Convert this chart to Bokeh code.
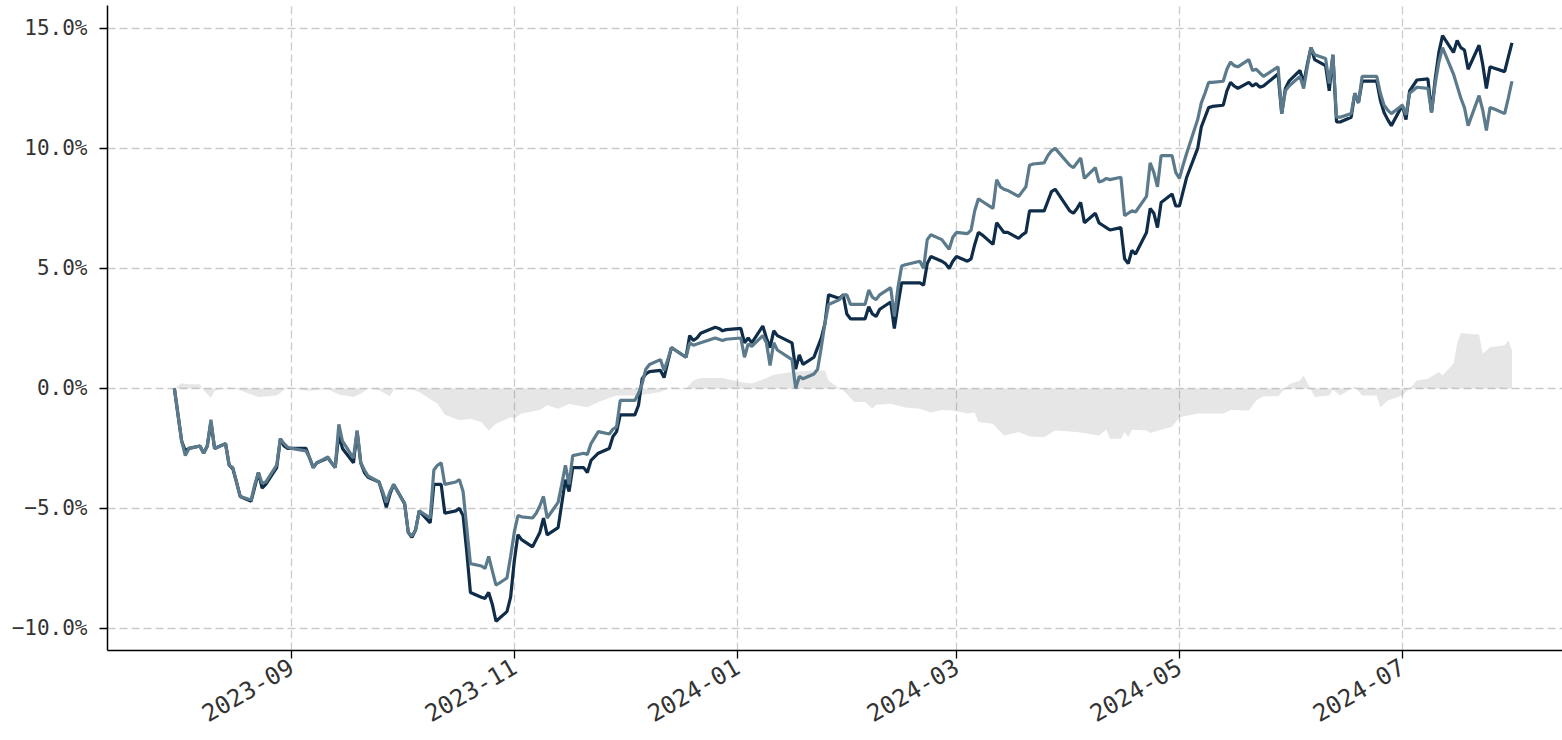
import math
import pandas as pd
from bokeh.plotting import figure
from bokeh.models import FixedTicker, DatetimeTickFormatter, Range1d
from bokeh.embed import file_html
from bokeh.resources import INLINE

# ---------------- data (cumulative return, %) ----------------
dates = [
    "2023-07-31", "2023-08-02", "2023-08-03", "2023-08-04", "2023-08-07", "2023-08-08", "2023-08-09",
    "2023-08-10", "2023-08-11", "2023-08-14", "2023-08-15", "2023-08-16", "2023-08-17", "2023-08-18",
    "2023-08-21", "2023-08-22", "2023-08-23", "2023-08-24", "2023-08-25", "2023-08-28", "2023-08-29",
    "2023-08-30", "2023-08-31", "2023-09-01", "2023-09-05", "2023-09-06", "2023-09-07", "2023-09-08",
    "2023-09-11", "2023-09-12", "2023-09-13", "2023-09-14", "2023-09-15", "2023-09-18", "2023-09-19",
    "2023-09-20", "2023-09-21", "2023-09-22", "2023-09-25", "2023-09-26", "2023-09-27", "2023-09-28",
    "2023-09-29", "2023-10-02", "2023-10-03", "2023-10-04", "2023-10-05", "2023-10-06", "2023-10-09",
    "2023-10-10", "2023-10-11", "2023-10-12", "2023-10-13", "2023-10-16", "2023-10-17", "2023-10-18",
    "2023-10-19", "2023-10-20", "2023-10-23", "2023-10-24", "2023-10-25", "2023-10-26", "2023-10-27",
    "2023-10-30", "2023-10-31", "2023-11-01", "2023-11-02", "2023-11-03", "2023-11-06", "2023-11-07",
    "2023-11-08", "2023-11-09", "2023-11-10", "2023-11-13", "2023-11-14", "2023-11-15", "2023-11-16",
    "2023-11-17", "2023-11-20", "2023-11-21", "2023-11-22", "2023-11-24", "2023-11-27", "2023-11-28",
    "2023-11-29", "2023-11-30", "2023-12-01", "2023-12-04", "2023-12-05", "2023-12-06", "2023-12-07",
    "2023-12-08", "2023-12-11", "2023-12-12", "2023-12-13", "2023-12-14", "2023-12-15", "2023-12-18",
    "2023-12-19", "2023-12-20", "2023-12-21", "2023-12-22", "2023-12-26", "2023-12-27", "2023-12-28",
    "2023-12-29", "2024-01-02", "2024-01-03", "2024-01-04", "2024-01-05", "2024-01-08", "2024-01-09",
    "2024-01-10", "2024-01-11", "2024-01-12", "2024-01-16", "2024-01-17", "2024-01-18", "2024-01-19",
    "2024-01-22", "2024-01-23", "2024-01-24", "2024-01-25", "2024-01-26", "2024-01-29", "2024-01-30",
    "2024-01-31", "2024-02-01", "2024-02-02", "2024-02-05", "2024-02-06", "2024-02-07", "2024-02-08",
    "2024-02-09", "2024-02-12", "2024-02-13", "2024-02-14", "2024-02-15", "2024-02-16", "2024-02-20",
    "2024-02-21", "2024-02-22", "2024-02-23", "2024-02-26", "2024-02-27", "2024-02-28", "2024-02-29",
    "2024-03-01", "2024-03-04", "2024-03-05", "2024-03-06", "2024-03-07", "2024-03-08", "2024-03-11",
    "2024-03-12", "2024-03-13", "2024-03-14", "2024-03-15", "2024-03-18", "2024-03-19", "2024-03-20",
    "2024-03-21", "2024-03-22", "2024-03-25", "2024-03-26", "2024-03-27", "2024-03-28", "2024-04-01",
    "2024-04-02", "2024-04-03", "2024-04-04", "2024-04-05", "2024-04-08", "2024-04-09", "2024-04-10",
    "2024-04-11", "2024-04-12", "2024-04-15", "2024-04-16", "2024-04-17", "2024-04-18", "2024-04-19",
    "2024-04-22", "2024-04-23", "2024-04-24", "2024-04-25", "2024-04-26", "2024-04-29", "2024-04-30",
    "2024-05-01", "2024-05-02", "2024-05-03", "2024-05-06", "2024-05-07", "2024-05-08", "2024-05-09",
    "2024-05-10", "2024-05-13", "2024-05-14", "2024-05-15", "2024-05-16", "2024-05-17", "2024-05-20",
    "2024-05-21", "2024-05-22", "2024-05-23", "2024-05-24", "2024-05-28", "2024-05-29", "2024-05-30",
    "2024-05-31", "2024-06-03", "2024-06-04", "2024-06-05", "2024-06-06", "2024-06-07", "2024-06-10",
    "2024-06-11", "2024-06-12", "2024-06-13", "2024-06-14", "2024-06-17", "2024-06-18", "2024-06-19",
    "2024-06-20", "2024-06-21", "2024-06-24", "2024-06-25", "2024-06-26", "2024-06-27", "2024-06-28",
    "2024-07-01", "2024-07-02", "2024-07-03", "2024-07-05", "2024-07-08", "2024-07-09", "2024-07-10",
    "2024-07-11", "2024-07-12", "2024-07-15", "2024-07-16", "2024-07-17", "2024-07-18", "2024-07-19",
    "2024-07-22", "2024-07-23", "2024-07-24", "2024-07-25", "2024-07-26", "2024-07-29", "2024-07-30",
    "2024-07-31",
]

portfolio = [
    0.0, -2.2, -2.6, -2.5, -2.4, -2.7, -2.4,
    -1.4, -2.5, -2.3, -3.2, -3.35, -3.9, -4.5,
    -4.7, -4.1, -3.5, -4.15, -4.0, -3.3, -2.1,
    -2.4, -2.5, -2.5, -2.5, -2.9, -3.3, -3.1,
    -2.9, -3.1, -3.3, -1.9, -2.5, -3.1, -1.8,
    -3.1, -3.5, -3.7, -3.9, -4.4, -4.95, -4.4,
    -4.0, -4.8, -6.0, -6.2, -5.9, -5.1, -5.6,
    -4.0, -4.0, -4.0, -5.2, -5.1, -5.0, -5.3,
    -6.8, -8.5, -8.7, -8.75, -8.5, -9.0, -9.7,
    -9.3, -8.7, -7.2, -6.1, -6.3, -6.6, -6.3,
    -6.0, -5.4, -6.1, -5.8, -4.8, -3.8, -4.3,
    -3.3, -3.3, -3.5, -3.0, -2.7, -2.5, -2.0,
    -1.8, -1.1, -1.1, -1.1, -0.7, 0.4, 0.6,
    0.7, 0.75, 0.45, 1.1, 1.7, 1.6, 1.3,
    2.2, 2.0, 2.1, 2.3, 2.55, 2.5, 2.4,
    2.45, 2.5, 1.9, 2.1, 1.9, 2.6, 2.1,
    1.7, 2.4, 2.2, 1.9, 0.8, 1.4, 1.0,
    1.3, 1.7, 2.1, 2.7, 3.9, 3.75, 3.9,
    3.1, 2.9, 2.9, 2.9, 3.4, 3.1, 3.0,
    3.3, 3.6, 2.5, 3.5, 4.4, 4.4, 4.4,
    4.3, 5.2, 5.5, 5.3, 5.2, 5.0, 5.3,
    5.5, 5.3, 5.4, 6.0, 6.5, 6.4, 6.0,
    6.9, 6.7, 6.5, 6.5, 6.25, 6.4, 6.5,
    7.4, 7.4, 7.4, 7.8, 8.2, 8.3, 7.4,
    7.3, 7.5, 7.75, 6.9, 7.3, 6.9, 6.8,
    6.7, 6.6, 6.7, 5.4, 5.2, 5.75, 5.6,
    6.5, 7.5, 7.3, 6.7, 7.75, 8.1, 7.6,
    7.6, 8.2, 8.8, 10.0, 10.9, 11.3, 11.7,
    11.75, 11.8, 12.4, 12.75, 12.6, 12.5, 12.75,
    12.6, 12.7, 12.55, 12.6, 13.1, 11.45, 12.5,
    12.8, 13.25, 12.7, 13.5, 14.2, 13.7, 13.45,
    12.4, 13.9, 11.1, 11.1, 11.3, 12.3, 11.9,
    12.8, 12.8, 12.8, 12.0, 11.5, 11.2, 10.95,
    11.8, 11.2, 12.4, 12.85, 12.9, 11.5, 12.9,
    14.0, 14.7, 14.0, 14.5, 14.2, 14.1, 13.3,
    14.3, 13.5, 12.5, 13.4, 13.35, 13.2, 13.8,
    14.4,
]

benchmark = [
    0.0, -2.2, -2.8, -2.5, -2.4, -2.7, -2.4,
    -1.3, -2.5, -2.3, -3.2, -3.3, -3.9, -4.5,
    -4.65, -4.0, -3.5, -3.95, -3.9, -3.2, -2.1,
    -2.3, -2.45, -2.5, -2.6, -2.9, -3.3, -3.1,
    -2.85, -3.1, -3.3, -1.5, -2.2, -2.9, -1.75,
    -3.1, -3.4, -3.65, -3.9, -4.3, -4.75, -4.3,
    -4.0, -4.8, -6.0, -6.15, -5.9, -5.1, -5.4,
    -3.4, -3.2, -3.1, -4.0, -3.9, -3.8, -4.3,
    -5.8, -7.3, -7.4, -7.5, -7.0, -7.6, -8.2,
    -7.9, -7.0, -6.0, -5.3, -5.35, -5.4, -5.2,
    -4.9, -4.5, -5.4, -4.75, -4.0, -3.2, -4.0,
    -2.8, -2.7, -2.75, -2.3, -1.8, -1.9, -1.7,
    -1.6, -0.5, -0.5, -0.5, -0.2, 0.2, 0.8,
    1.0, 1.2, 0.75, 1.2, 1.7, 1.6, 1.3,
    1.9, 1.8, 1.85, 1.9, 2.1, 2.05, 2.0,
    2.05, 2.1, 1.3, 1.85, 1.75, 2.2, 1.9,
    0.95, 1.9, 1.6, 1.2, 0.0, 0.5, 0.4,
    0.6, 0.8, 1.7, 2.7, 3.5, 3.7, 3.9,
    3.9, 3.5, 3.5, 3.5, 4.1, 3.8, 3.7,
    3.9, 4.2, 3.0, 4.2, 5.1, 5.15, 5.3,
    5.0, 6.2, 6.4, 6.2, 6.0, 5.8, 6.3,
    6.5, 6.45, 6.6, 7.4, 7.9, 7.8, 7.5,
    8.7, 8.4, 8.3, 8.25, 8.0, 8.2, 8.4,
    9.3, 9.35, 9.4, 9.7, 9.9, 10.0, 9.3,
    9.2, 9.4, 9.6, 8.75, 9.2, 8.6, 8.65,
    8.75, 8.7, 8.8, 7.2, 7.3, 7.4, 7.35,
    8.0, 9.4, 9.0, 8.4, 9.7, 9.7, 9.0,
    8.75, 9.3, 9.8, 11.2, 11.9, 12.3, 12.75,
    12.75, 12.8, 13.3, 13.6, 13.45, 13.4, 13.7,
    13.25, 13.3, 13.15, 13.0, 13.4, 11.45, 12.4,
    12.6, 13.0, 12.5, 13.4, 14.2, 13.9, 13.75,
    12.7, 13.9, 11.3, 11.3, 11.45, 12.3, 11.9,
    13.0, 13.0, 13.0, 12.3, 11.8, 11.6, 11.45,
    11.8, 11.4, 12.3, 12.55, 12.5, 11.5, 12.7,
    13.6, 14.2, 13.1, 12.6, 12.1, 11.7, 10.95,
    12.2, 11.6, 10.75, 11.7, 11.65, 11.45, 12.1,
    12.8,
]

# relative performance (shaded area, %)
excess_dates = [
    "2023-07-31", "2023-08-02", "2023-08-04", "2023-08-07", "2023-08-08", "2023-08-10", "2023-08-11",
    "2023-08-15", "2023-08-18", "2023-08-23", "2023-08-28", "2023-08-31", "2023-09-05", "2023-09-11",
    "2023-09-14", "2023-09-18", "2023-09-20", "2023-09-22", "2023-09-25", "2023-09-28", "2023-09-29",
    "2023-10-04", "2023-10-06", "2023-10-11", "2023-10-13", "2023-10-17", "2023-10-20", "2023-10-23",
    "2023-10-25", "2023-10-27", "2023-10-31", "2023-11-01", "2023-11-03", "2023-11-08", "2023-11-10",
    "2023-11-13", "2023-11-16", "2023-11-21", "2023-11-24", "2023-11-29", "2023-12-05", "2023-12-11",
    "2023-12-14", "2023-12-18", "2023-12-20", "2023-12-22", "2023-12-28", "2024-01-02", "2024-01-05",
    "2024-01-09", "2024-01-11", "2024-01-16", "2024-01-22", "2024-01-25", "2024-01-26", "2024-01-29",
    "2024-01-30", "2024-02-02", "2024-02-05", "2024-02-07", "2024-02-08", "2024-02-12", "2024-02-16",
    "2024-02-20", "2024-02-23", "2024-02-26", "2024-02-29", "2024-03-01", "2024-03-04", "2024-03-06",
    "2024-03-07", "2024-03-11", "2024-03-14", "2024-03-18", "2024-03-21", "2024-03-25", "2024-03-28",
    "2024-04-03", "2024-04-09", "2024-04-11", "2024-04-12", "2024-04-15", "2024-04-16", "2024-04-17",
    "2024-04-18", "2024-04-22", "2024-04-23", "2024-04-26", "2024-04-29", "2024-05-01", "2024-05-06",
    "2024-05-13", "2024-05-15", "2024-05-20", "2024-05-22", "2024-05-24", "2024-05-28", "2024-05-31",
    "2024-06-03", "2024-06-04", "2024-06-07", "2024-06-11", "2024-06-12", "2024-06-14", "2024-06-18",
    "2024-06-20", "2024-06-24", "2024-06-25", "2024-06-27", "2024-07-01", "2024-07-03", "2024-07-05",
    "2024-07-08", "2024-07-11", "2024-07-12", "2024-07-15", "2024-07-16", "2024-07-17", "2024-07-22",
    "2024-07-23", "2024-07-25", "2024-07-29", "2024-07-30", "2024-07-31",
]

excess = [
    0.0, 0.22, 0.17, 0.17, -0.08, -0.4, -0.1,
    0.05, -0.08, -0.36, -0.3, 0.05, -0.1, -0.03,
    -0.25, -0.36, -0.22, 0.0, -0.08, -0.33, -0.05,
    -0.05, -0.15, -0.64, -1.1, -1.33, -1.26, -1.4,
    -1.75, -1.47, -1.2, -1.25, -1.05, -0.9, -0.7,
    -0.85, -0.65, -0.78, -0.57, -0.3, -0.3, -0.15,
    0.05, 0.0, 0.33, 0.43, 0.43, 0.26, 0.2,
    0.43, 0.57, 0.68, 0.75, 0.75, 0.33, 0.0,
    -0.08, -0.57, -0.57, -0.85, -0.68, -0.64, -0.8,
    -0.85, -1.0, -0.9, -0.92, -0.95, -1.05, -1.0,
    -1.4, -1.47, -1.96, -1.82, -2.0, -2.03, -1.75,
    -1.82, -1.96, -1.72, -2.1, -2.1, -1.82, -2.03,
    -1.72, -1.75, -1.86, -1.72, -1.6, -1.2, -1.05,
    -1.05, -0.9, -0.92, -0.5, -0.33, -0.33, 0.17,
    0.33, 0.54, -0.36, -0.3, -0.05, -0.3, 0.08,
    -0.3, -0.3, -0.8, -0.5, -0.3, 0.0, 0.33,
    0.4, 0.68, 0.54, 1.03, 1.86, 2.3, 2.25,
    1.44, 1.72, 1.8, 2.0, 1.58,
]

y_ticks = [-10, -5, 0, 5, 10, 15]
y_tick_labels = ["\u221210.0%", "\u22125.0%", "0.0%", "5.0%", "10.0%", "15.0%"]
x_tick_dates = ["2023-09-01", "2023-11-01", "2024-01-01", "2024-03-01", "2024-05-01", "2024-07-01"]

# ---------------- figure ----------------
FONT = "DejaVu Sans Mono"
d = pd.to_datetime(dates)
ed = pd.to_datetime(excess_dates)

W, H = 1562, 740
LEFT, TOP, BOTTOM = 107, 5, 90
PX_PER_DAY = 3.6546
PX_PER_PCT = 24.0
span = d[-1] - d[0]
x_start = d[0] - 0.05 * span
x_end = x_start + pd.Timedelta(days=(W - LEFT) / PX_PER_DAY)
vmin = min(min(portfolio), min(benchmark))
vmax = max(max(portfolio), max(benchmark))
vr = vmax - vmin
y_lo = vmin - 0.05 * vr
y_hi = y_lo + (H - BOTTOM - TOP) / PX_PER_PCT

p = figure(
    width=W, height=H, x_axis_type="datetime",
    x_range=Range1d(x_start.to_pydatetime(), x_end.to_pydatetime()),
    y_range=Range1d(y_lo, y_hi),
    output_backend="svg", toolbar_location=None,
    min_border_left=LEFT, min_border_right=0, min_border_top=TOP, min_border_bottom=BOTTOM,
)
p.outline_line_color = None
p.background_fill_color = "white"
p.border_fill_color = "white"

p.varea(x=ed, y1=0, y2=excess, fill_color="#808080", fill_alpha=0.2)
p.line(d, portfolio, line_color="#0f2c49", line_width=3.2)
p.line(d, benchmark, line_color="#5b7a8b", line_width=3.2)

# axes
xt = [float(t.value // 10**6) for t in pd.to_datetime(x_tick_dates)]
p.xaxis.ticker = FixedTicker(ticks=xt)
p.xaxis.formatter = DatetimeTickFormatter(
    years="%Y-%m", months="%Y-%m", days="%Y-%m", hours="%Y-%m", minutes="%Y-%m",
)
p.xaxis.major_label_orientation = math.radians(30)
p.yaxis.ticker = FixedTicker(ticks=y_ticks)
p.yaxis.major_label_overrides = {v: s for v, s in zip(y_ticks, y_tick_labels)}

for ax in (p.xaxis, p.yaxis):
    ax.axis_line_color = "black"
    ax.axis_line_width = 1.5
    ax.major_tick_line_color = "black"
    ax.major_tick_line_width = 1.3
    ax.major_tick_out = 8
    ax.major_tick_in = 0
    ax.minor_tick_line_color = None
    ax.major_label_text_font = FONT
    ax.major_label_text_color = "#333333"
p.yaxis.major_label_text_font_size = "21px"
p.xaxis.major_label_text_font_size = "24px"
p.yaxis.major_label_standoff = 12
p.xaxis.major_label_standoff = 6

for g in (p.xgrid, p.ygrid):
    g.grid_line_color = "#cbcbcb"
    g.grid_line_dash = "8 4"
    g.grid_line_width = 1.3

open("out.html", "w").write(file_html(p, INLINE))
